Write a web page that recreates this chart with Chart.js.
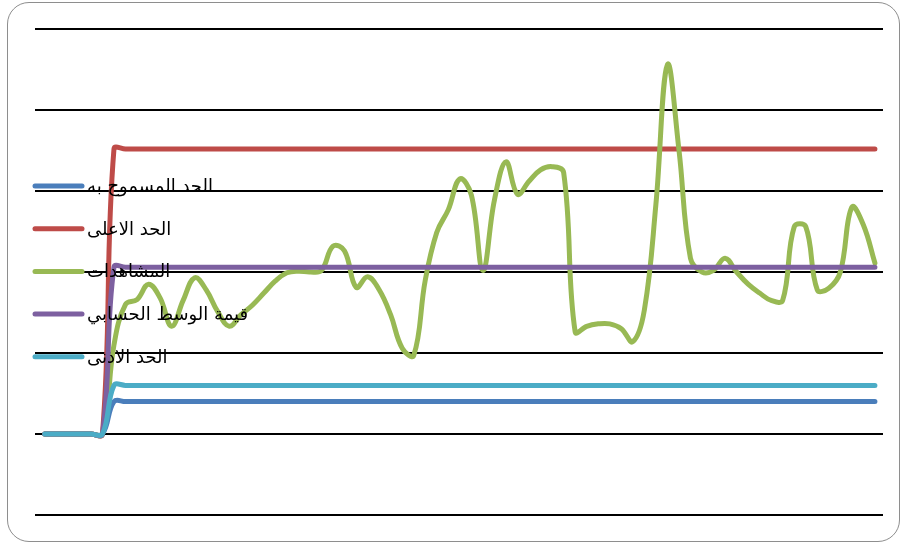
<!DOCTYPE html>
<html>
<head>
<meta charset="utf-8">
<script src="https://cdn.jsdelivr.net/npm/chart.js@4/dist/chart.umd.min.js"></script>
<style>
  html, body { margin: 0; padding: 0; background: #fff; }
  #wrap { position: relative; width: 902px; height: 544px; overflow: hidden; }
  #frame {
    position: absolute; left: 7px; top: 2px; width: 893px; height: 540px;
    border: 1.5px solid #8e8e8e; border-radius: 22px; box-sizing: border-box;
  }
  canvas { position: absolute; left: 0; top: 0; }
</style>
</head>
<body>
<div id="wrap">
  <div id="frame"></div>
  <canvas id="chart" width="902" height="544"></canvas>
</div>
<script>
// Sample numbers (x positions of the observations)
const categories = [
  1, 2, 3, 4, 5, 6, 7, 8, 9, 10, 11, 12, 13, 14, 15, 16, 17, 18, 19, 20,
  21, 22, 23, 24, 25, 26, 27, 28, 29, 30, 31, 32, 33, 34, 35, 36, 37, 38, 39, 40,
  41, 42, 43, 44, 45, 46, 47, 48, 49, 50, 51, 52, 53, 54, 55, 56, 57, 58, 59, 60,
  61, 62, 63, 64, 65, 66, 67, 68, 69, 70, 71, 72, 73
];

const seriesNames = ['الحد المسموح به', 'الحد الاعلى', 'المشاهدات', 'قيمة الوسط الحسابي', 'الحد الادنى'];

// الحد المسموح به
const allowedLimit = [
  0, 0, 0, 0, 0, 0, 4.0, 4.0, 4.0, 4.0, 4.0, 4.0, 4.0, 4.0, 4.0, 4.0, 4.0, 4.0, 4.0, 4.0,
  4.0, 4.0, 4.0, 4.0, 4.0, 4.0, 4.0, 4.0, 4.0, 4.0, 4.0, 4.0, 4.0, 4.0, 4.0, 4.0, 4.0, 4.0, 4.0, 4.0,
  4.0, 4.0, 4.0, 4.0, 4.0, 4.0, 4.0, 4.0, 4.0, 4.0, 4.0, 4.0, 4.0, 4.0, 4.0, 4.0, 4.0, 4.0, 4.0, 4.0,
  4.0, 4.0, 4.0, 4.0, 4.0, 4.0, 4.0, 4.0, 4.0, 4.0, 4.0, 4.0, 4.0
];

// الحد الاعلى
const upperLimit = [
  0, 0, 0, 0, 0, 0, 35.2, 35.2, 35.2, 35.2, 35.2, 35.2, 35.2, 35.2, 35.2, 35.2, 35.2, 35.2, 35.2, 35.2,
  35.2, 35.2, 35.2, 35.2, 35.2, 35.2, 35.2, 35.2, 35.2, 35.2, 35.2, 35.2, 35.2, 35.2, 35.2, 35.2, 35.2, 35.2, 35.2, 35.2,
  35.2, 35.2, 35.2, 35.2, 35.2, 35.2, 35.2, 35.2, 35.2, 35.2, 35.2, 35.2, 35.2, 35.2, 35.2, 35.2, 35.2, 35.2, 35.2, 35.2,
  35.2, 35.2, 35.2, 35.2, 35.2, 35.2, 35.2, 35.2, 35.2, 35.2, 35.2, 35.2, 35.2
];

// المشاهدات
const observations = [
  0, 0, 0, 0, 0, 0, 11.0, 16.0, 16.6, 18.5, 16.8, 13.3, 16.5, 19.3, 17.8, 15.1, 13.3, 14.7, 15.9, 17.4,
  18.9, 19.9, 20.1, 20.0, 20.2, 23.2, 22.6, 18.1, 19.4, 17.8, 14.7, 10.6, 9.7, 19.0, 24.9, 27.7, 31.5, 29.5, 20.2, 28.9,
  33.6, 29.6, 31.2, 32.6, 33.0, 32.3, 12.6, 13.3, 13.6, 13.6, 13.0, 11.4, 15.3, 28.3, 45.6, 35.1, 21.7, 20.0, 20.2, 21.7,
  20.0, 18.5, 17.4, 16.5, 16.5, 25.6, 25.6, 17.8, 18.0, 20.0, 28.0, 25.8, 21.1
];

// قيمة الوسط الحسابي
const meanValue = [
  0, 0, 0, 0, 0, 0, 20.6, 20.6, 20.6, 20.6, 20.6, 20.6, 20.6, 20.6, 20.6, 20.6, 20.6, 20.6, 20.6, 20.6,
  20.6, 20.6, 20.6, 20.6, 20.6, 20.6, 20.6, 20.6, 20.6, 20.6, 20.6, 20.6, 20.6, 20.6, 20.6, 20.6, 20.6, 20.6, 20.6, 20.6,
  20.6, 20.6, 20.6, 20.6, 20.6, 20.6, 20.6, 20.6, 20.6, 20.6, 20.6, 20.6, 20.6, 20.6, 20.6, 20.6, 20.6, 20.6, 20.6, 20.6,
  20.6, 20.6, 20.6, 20.6, 20.6, 20.6, 20.6, 20.6, 20.6, 20.6, 20.6, 20.6, 20.6
];

// الحد الادنى
const lowerLimit = [
  0, 0, 0, 0, 0, 0, 6.0, 6.0, 6.0, 6.0, 6.0, 6.0, 6.0, 6.0, 6.0, 6.0, 6.0, 6.0, 6.0, 6.0,
  6.0, 6.0, 6.0, 6.0, 6.0, 6.0, 6.0, 6.0, 6.0, 6.0, 6.0, 6.0, 6.0, 6.0, 6.0, 6.0, 6.0, 6.0, 6.0, 6.0,
  6.0, 6.0, 6.0, 6.0, 6.0, 6.0, 6.0, 6.0, 6.0, 6.0, 6.0, 6.0, 6.0, 6.0, 6.0, 6.0, 6.0, 6.0, 6.0, 6.0,
  6.0, 6.0, 6.0, 6.0, 6.0, 6.0, 6.0, 6.0, 6.0, 6.0, 6.0, 6.0, 6.0
];

// Value axis grid values
const yTicks = [-10, 0, 10, 20, 30, 40, 50];

const seriesValues = [allowedLimit, upperLimit, observations, meanValue, lowerLimit];
const seriesColors = ['#4A7EBB', '#BE4B48', '#98B954', '#7D60A0', '#4BACC6'];

const toPoints = (values) => values.map((v, i) => ({ x: categories[i], y: v }));

const datasets = seriesValues.map((values, i) => ({
  label: seriesNames[i],
  data: toPoints(values),
  borderColor: seriesColors[i],
  backgroundColor: seriesColors[i],
  borderWidth: 5,
  borderCapStyle: 'round',
  borderJoinStyle: 'round',
  pointRadius: 0,
  pointHoverRadius: 0,
  tension: 0.4,
  fill: false,
  // later series are painted over earlier ones
  order: seriesValues.length - i
}));

// Legend drawn over the plot area, on its left side
const overlayLegend = {
  id: 'overlayLegend',
  afterDatasetsDraw(chart, args, opts) {
    const ctx = chart.ctx;
    ctx.save();
    chart.data.datasets.forEach((ds, i) => {
      const y = opts.top + i * opts.spacing;
      ctx.strokeStyle = ds.borderColor;
      ctx.lineWidth = 5;
      ctx.lineCap = 'round';
      ctx.beginPath();
      ctx.moveTo(opts.lineStart, y);
      ctx.lineTo(opts.lineEnd, y);
      ctx.stroke();
      ctx.fillStyle = '#000';
      ctx.font = opts.font;
      ctx.direction = 'rtl';
      ctx.textAlign = 'left';
      ctx.textBaseline = 'alphabetic';
      ctx.fillText(ds.label, opts.textX, y + opts.baselineShift);
    });
    ctx.restore();
  }
};

new Chart(document.getElementById('chart'), {
  type: 'line',
  data: { datasets },
  plugins: [overlayLegend],
  options: {
    responsive: false,
    animation: false,
    events: [],
    layout: { padding: { left: 35, right: 19, top: 29, bottom: 29 } },
    scales: {
      x: {
        type: 'linear',
        min: 0.15,
        max: 73.7,
        display: false
      },
      y: {
        min: yTicks[0],
        max: yTicks[yTicks.length - 1],
        afterBuildTicks: (scale) => { scale.ticks = yTicks.map(v => ({ value: v })); },
        ticks: { display: false },
        border: { display: false },
        grid: { color: '#000', lineWidth: 2, drawTicks: false }
      }
    },
    plugins: {
      legend: { display: false },
      tooltip: { enabled: false },
      overlayLegend: {
        top: 186,
        spacing: 42.7,
        lineStart: 35,
        lineEnd: 82,
        textX: 87,
        baselineShift: 6,
        font: '18px "DejaVu Sans"'
      }
    }
  }
});
</script>
</body>
</html>
